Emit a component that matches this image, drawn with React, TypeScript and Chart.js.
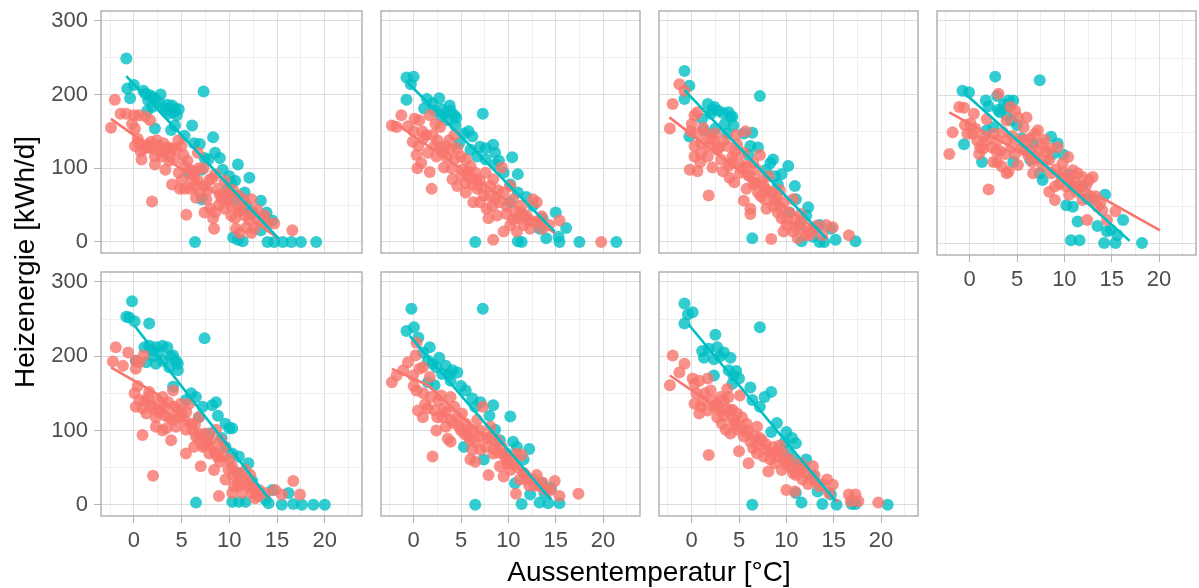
import React, { useEffect, useRef } from 'react';
import { Chart, registerables } from 'chart.js';

Chart.register(...registerables);

// ---------- data (x = Aussentemperatur °C, y = Heizenergie kWh/d) ----------
const xTickValues = [-2.5, 0, 2.5, 5, 7.5, 10, 12.5, 15, 17.5, 20, 22.5];
const yTickValues = [0, 50, 100, 150, 200, 250, 300];
const xTitle = 'Aussentemperatur [°C]';
const yTitle = 'Heizenergie [kWh/d]';

const panel1Teal = [[-0.8,249],[-0.7,208],[0,213],[-0.4,195],[1.2,201],[1.7,199],[1.5,192],[2.2,194],[2.6,190],[1.9,183],[1.4,178],[2.2,154],[3.3,178],[4.0,185],[4.3,181],[3.6,174],[4.5,172],[3.9,152],[4.3,158],[5.3,144],[6.1,158],[7.3,204],[6.3,134],[6.9,133],[8.3,142],[8.5,121],[9.0,114],[7.8,112],[7.1,98],[10.0,89],[10.9,105],[10.6,83],[9.8,72],[11.6,67],[12.1,87],[10.6,58],[11.8,49],[12.3,40],[13.3,56],[13.9,40],[13.3,16],[14.5,29],[14.0,0],[14.7,0],[15.6,0],[16.5,0],[17.5,0],[19.1,0],[6.4,0],[10.4,6],[10.9,3],[11.4,1],[7.1,58],[5.7,94],[7.4,114],[9.3,98],[10.2,80],[4.1,176],[3.0,182],[2.0,196],[3.5,186],[4.7,180],[2.8,200],[1.0,205]];
const panel1Salmon = [[-2.0,193],[-2.4,155],[-1.4,174],[-0.8,174],[0,172],[0.5,172],[1.2,170],[1.7,165],[-0.2,160],[0.1,154],[0.1,130],[0.7,123],[0.8,112],[1.4,132],[1.8,136],[2.2,116],[1.9,55],[2.6,130],[3.1,134],[3.4,125],[3.8,121],[3.3,98],[4.0,78],[4.3,112],[4.7,94],[5.0,130],[5.2,118],[5.3,103],[4.8,72],[5.3,72],[5.9,98],[6.0,85],[6.4,76],[5.5,37],[6.7,83],[6.9,67],[7.3,100],[7.4,76],[7.6,58],[8.0,45],[8.3,32],[8.4,18],[8.5,92],[8.8,72],[9.2,58],[9.5,83],[9.5,45],[9.9,58],[10.2,49],[10.6,32],[10.7,18],[10.9,63],[11.4,52],[11.6,36],[11.8,20],[12.3,58],[12.5,40],[12.6,18],[13.0,29],[13.5,32],[14.0,25],[14.7,25],[16.6,16],[13.7,36],[4.65,138],[4.0,127],[2.9,116],[2.2,105],[6.7,121],[5.9,72],[10.2,36],[8.5,40],[7.4,40],[12.3,12],[11.1,12],[0.4,140],[1.0,126],[2.0,126],[3.6,128],[6.2,96],[7.9,84],[9.0,64],[10.0,70],[11.2,44],[0.5,135],[1.5,128],[2.4,138],[3.0,122],[4.4,126],[5.6,110],[6.3,90],[6.8,100],[7.7,70],[8.2,86],[8.9,50],[9.7,64],[10.4,70],[11.0,42],[11.5,58],[12.1,30],[12.9,44],[3.7,110],[5.0,84],[6.5,60]];

const panel2Teal = [[-0.76,223],[0,224],[-0.3,214],[-0.76,193],[1.4,194],[2.7,195],[1.1,181],[2.2,178],[3.2,174],[3.9,178],[4.3,172],[3.6,165],[4.4,158],[7.3,174],[5.3,147],[6.2,143],[7.0,129],[7.6,127],[8.4,132],[8.6,121],[6.7,116],[7.6,112],[8.6,105],[10.4,115],[9.5,94],[11.0,92],[10.2,78],[11.0,67],[11.9,61],[12.6,49],[13.6,32],[15.0,40],[16.1,19],[14.0,5],[15.3,7],[15.4,0],[11.4,0],[11.0,1],[6.5,0],[17.5,0],[21.4,0],[13.3,18],[11.6,36],[10.2,54],[6.0,125],[4.8,134],[3.8,185],[2.9,170],[2.0,188],[3.0,180],[4.5,168],[5.8,150],[9.0,110]];
const panel2Salmon = [[-2.3,158],[-1.8,156],[-1.3,172],[-0.6,157],[0.1,167],[0.6,165],[1.7,172],[-0.1,136],[0.5,130],[0.3,118],[0.8,107],[1.7,95],[1.9,72],[1.3,145],[1.5,121],[2.2,130],[2.5,138],[2.8,156],[3.1,121],[3.2,101],[3.75,138],[3.9,125],[4.3,112],[4.1,85],[4.6,127],[5.0,116],[5.1,98],[5.5,112],[5.7,89],[6.0,103],[6.2,78],[6.5,94],[6.3,54],[7.0,83],[7.4,63],[7.6,94],[8.1,76],[7.9,32],[8.4,85],[8.6,58],[8.8,36],[9.3,101],[9.5,67],[9.8,49],[10.2,76],[10.5,58],[10.7,40],[11.0,32],[11.4,49],[11.6,23],[11.9,36],[12.3,18],[12.6,58],[13.0,54],[13.1,27],[13.6,18],[14.3,23],[15.4,29],[8.4,3],[19.8,0],[7.0,54],[5.5,67],[4.3,145],[2.4,116],[9.5,14],[10.9,14],[10.2,23],[7.7,45],[4.6,76],[6.7,72],[0.9,150],[3.4,130],[5.8,95],[8.9,70],[12.0,30],[0,150],[1.0,140],[2.0,145],[2.8,128],[3.5,115],[4.0,100],[5.0,90],[5.5,80],[6.6,85],[7.2,74],[8.0,62],[8.3,48],[9.0,54],[9.8,38],[10.5,30],[11.3,40],[12.5,28],[13.5,35],[0.4,100],[2.3,160]];

const panel3Teal = [[-0.76,232],[-0.24,212],[-0.76,194],[1.7,187],[2.4,183],[2.0,174],[1.1,167],[3.9,176],[4.1,170],[4.4,158],[-0.24,143],[1.3,152],[2.5,154],[3.75,147],[6.4,148],[7.2,198],[6.2,130],[6.0,118],[8.3,107],[8.6,112],[10.2,103],[7.9,98],[8.8,89],[9.1,78],[10.9,76],[11.0,58],[12.3,47],[12.1,36],[13.5,23],[14.7,18],[15.2,3],[14.0,0],[11.6,1],[6.4,5],[17.3,1],[13.5,0],[12.8,7],[11.4,23],[10.3,40],[5.5,147],[2.8,178],[3.5,160],[2.2,180],[3.3,175],[4.3,170],[7.0,128],[9.5,92]];
const panel3Salmon = [[-1.3,214],[-0.76,205],[-2.0,187],[-2.3,154],[0.3,172],[0.6,176],[-0.1,150],[0.45,147],[0.3,130],[0.3,116],[-0.2,98],[0.6,96],[1.0,134],[1.5,147],[1.8,130],[1.7,116],[2.2,101],[1.8,63],[2.5,147],[2.7,125],[3.1,112],[3.4,138],[3.75,130],[3.9,103],[4.0,87],[4.3,116],[4.6,123],[5.0,107],[5.1,94],[5.7,150],[5.5,121],[5.8,103],[6.2,89],[6.5,78],[5.5,56],[6.2,45],[6.2,38],[6.9,98],[7.2,118],[7.0,67],[7.6,76],[7.7,58],[7.9,45],[8.4,67],[8.6,49],[9.0,61],[9.1,40],[9.5,32],[9.7,54],[10.0,23],[10.3,40],[10.7,14],[11.0,29],[11.2,5],[11.7,18],[12.1,9],[12.4,14],[12.8,18],[8.4,4],[14.2,23],[14.9,20],[16.6,9],[10.7,58],[8.1,89],[6.5,107],[4.5,81],[5.8,72],[9.7,14],[13.8,9],[1.0,120],[2.3,138],[4.8,132],[7.4,84],[9.3,70],[11.5,38],[0,160],[1.2,155],[2.0,140],[2.9,128],[3.3,96],[4.2,108],[5.4,100],[6.0,90],[6.8,80],[7.3,62],[8.0,70],[8.8,56],[9.4,46],[10.1,30],[10.9,20],[11.5,26],[12.5,10],[13.2,22],[0.9,108],[4.7,145]];

const panel4Teal = [[-0.76,206],[-0.07,204],[2.7,225],[7.4,220],[1.7,193],[2.0,185],[2.9,199],[3.6,188],[4.1,193],[4.6,193],[3.2,177],[3.9,173],[4.4,166],[2.5,157],[1.8,153],[-0.6,134],[1.3,110],[4.6,110],[5.5,142],[6.4,113],[7.4,95],[7.7,86],[8.6,144],[9.3,135],[10.5,93],[10.9,77],[10.2,52],[10.9,50],[12.4,61],[11.4,30],[13.5,24],[14.3,66],[14.5,17],[14.9,19],[16.2,32],[15.6,12],[10.7,5],[11.6,5],[14.2,1],[15.4,1],[18.2,1],[13.0,59],[11.9,77],[8.8,121],[6.7,135],[3.0,180],[4.0,185],[5.0,160],[9.9,120]];
const panel4Salmon = [[-2.15,121],[-1.8,150],[-1.1,184],[-0.6,183],[0.1,162],[0.3,148],[0.45,175],[0.8,139],[1.1,130],[1.0,121],[1.5,144],[1.8,168],[2.0,73],[2.5,110],[2.3,130],[2.9,139],[3.05,202],[3.4,104],[3.75,121],[4.1,97],[3.9,166],[4.3,184],[4.8,179],[4.4,130],[4.8,121],[5.1,106],[5.3,139],[5.7,157],[6.0,170],[5.8,126],[6.2,119],[6.4,142],[6.9,148],[7.2,153],[7.0,117],[7.6,135],[7.7,104],[8.1,124],[8.4,113],[8.6,95],[9.0,77],[8.4,70],[9.5,81],[9.3,130],[9.8,108],[10.4,117],[10.2,77],[10.5,66],[10.9,99],[11.4,95],[11.6,77],[11.9,90],[12.3,79],[12.6,86],[11.9,59],[12.4,32],[13.0,90],[13.3,64],[13.8,55],[14.5,32],[15.4,44],[10.5,88],[6.7,95],[3.9,95],[5.1,170],[2.9,110],[-0.24,148],[9.0,59],[1.4,128],[2.8,125],[4.0,140],[5.5,128],[6.6,110],[8.0,112],[9.9,96],[11.0,84],[0.6,155],[1.7,138],[2.5,148],[3.2,125],[3.5,150],[4.5,145],[5.9,140],[6.5,128],[7.3,125],[8.5,128],[9.1,100],[9.7,90],[10.8,78],[11.3,70],[12.0,68],[12.8,62],[13.5,50],[14.0,45],[-0.5,160],[7.9,140]];

const panel5Teal = [[-0.2,274],[-0.8,253],[-0.5,252],[0.07,247],[1.6,244],[1.1,212],[1.6,214],[2.3,212],[3.0,214],[3.5,212],[0.2,194],[1.3,192],[2.3,190],[3.0,194],[4.1,201],[4.4,194],[4.6,181],[3.7,185],[4.1,159],[7.4,224],[6.0,150],[6.5,145],[5.45,141],[7.2,132],[8.2,134],[8.6,138],[6.8,118],[7.9,96],[9.6,109],[10.0,103],[10.3,103],[9.6,78],[10.3,69],[11.0,65],[12.0,56],[11.0,43],[12.4,32],[10.3,4],[11.0,4],[11.7,4],[6.5,3],[13.8,7],[14.1,2],[15.5,0],[16.2,16],[16.7,1],[17.6,0],[18.8,0],[20.0,0],[14.5,20],[2.0,200],[4.6,190],[2.6,205],[3.8,200],[1.9,208],[8.8,120],[9.2,90]];
const panel5Salmon = [[-2.2,193],[-1.9,212],[-1.15,187],[-0.6,205],[0.2,194],[0.2,183],[0.6,192],[1.0,201],[0.07,150],[0.2,132],[0.6,141],[0.9,130],[0.9,94],[1.3,123],[1.6,152],[2.0,39],[1.8,134],[2.3,118],[2.5,141],[3.0,145],[3.2,132],[3.4,103],[3.7,118],[3.9,87],[4.1,154],[4.2,132],[4.4,105],[4.8,118],[4.9,136],[5.3,114],[5.45,101],[5.8,136],[6.0,109],[6.3,78],[6.5,92],[6.8,118],[7.0,52],[7.2,78],[7.5,96],[7.9,69],[8.2,78],[8.4,47],[8.75,65],[8.9,12],[9.1,87],[9.4,78],[9.6,34],[10.0,61],[10.3,52],[10.5,25],[10.8,43],[11.2,34],[11.35,16],[11.7,47],[12.0,25],[12.4,16],[12.7,9],[13.1,20],[13.8,16],[14.8,20],[15.5,14],[16.7,32],[17.4,14],[6.8,87],[8.6,101],[4.1,114],[2.3,105],[10.3,16],[5.45,69],[1.2,140],[2.8,128],[3.6,138],[5.0,124],[6.2,100],[7.7,84],[9.0,58],[10.9,30],[12.5,22],[0.4,160],[1.5,145],[2.0,130],[2.6,125],[3.3,120],[4.6,128],[5.5,125],[6.4,108],[7.0,95],[7.4,80],[8.0,88],[8.5,70],[9.3,65],[9.9,48],[10.4,40],[11.0,26],[11.8,30],[12.2,40],[13.0,12],[3.0,100]];

const panel6Teal = [[-0.24,264],[7.3,264],[-0.76,234],[0.03,239],[1.7,212],[2.7,198],[1.5,194],[2.4,185],[3.4,187],[4.1,181],[4.6,178],[1.5,165],[2.2,161],[3.9,167],[5.5,154],[6.2,143],[7.05,138],[8.4,134],[6.5,132],[10.2,119],[5.3,78],[7.4,61],[8.6,101],[9.1,87],[10.5,85],[10.9,78],[12.2,75],[10.7,29],[12.3,14],[11.4,1],[13.5,29],[13.8,16],[13.3,3],[14.2,2],[15.4,2],[6.5,0],[14.5,23],[11.6,61],[9.8,69],[3.0,176],[0.5,225],[1.0,205],[2.0,190],[3.7,175],[5.0,160],[8.0,120]];
const panel6Salmon = [[-2.3,165],[-1.8,174],[-1.1,181],[-0.6,192],[0.2,201],[0.3,218],[-0.07,174],[0.6,183],[0.97,185],[0.3,154],[0.45,127],[0.97,118],[1.7,172],[1.8,145],[2.0,65],[2.2,127],[2.9,147],[3.05,118],[3.4,105],[3.6,89],[3.9,85],[3.9,145],[4.3,132],[4.6,118],[5.1,123],[5.5,109],[5.7,101],[6.0,87],[6.2,74],[6.5,58],[6.7,114],[7.3,132],[7.05,92],[7.6,78],[7.9,40],[8.1,105],[8.4,69],[8.8,87],[9.1,52],[9.3,78],[9.8,61],[10.2,47],[10.8,15],[10.9,69],[11.4,67],[11.6,43],[11.9,34],[12.6,34],[13.0,40],[13.3,25],[14.0,20],[14.5,20],[14.9,32],[15.4,12],[17.4,15],[4.8,105],[6.0,61],[7.05,74],[9.5,38],[11.2,34],[3.9,114],[2.5,118],[1.2,135],[3.2,130],[5.4,95],[6.3,100],[8.2,92],[9.6,66],[10.6,55],[12.2,26],[0,160],[1.0,150],[1.5,130],[2.6,140],[3.4,125],[4.2,110],[5.0,100],[5.8,92],[6.5,85],[7.0,100],[7.8,90],[8.5,75],[9.0,70],[9.9,55],[10.4,62],[11.0,50],[11.8,40],[12.8,26],[13.6,30],[2.4,100]];

const panel7Teal = [[-0.76,271],[-0.4,256],[0.1,259],[-0.76,244],[2.5,229],[1.1,207],[1.3,198],[2.7,212],[3.4,205],[2.35,196],[4.1,198],[3.9,181],[4.4,174],[2.35,174],[4.3,163],[7.2,239],[6.2,158],[6.4,141],[7.2,132],[7.7,145],[8.4,152],[8.4,98],[10.0,98],[9.8,84],[11.0,83],[10.7,61],[12.1,61],[11.4,52],[13.3,18],[11.0,16],[11.6,3],[13.8,1],[15.3,0],[16.9,1],[17.3,1],[20.7,0],[6.4,0],[14.7,14],[10.2,72],[12.8,38],[5.0,170],[1.8,210],[3.0,200],[4.7,180],[9.0,110],[10.6,90]];
const panel7Salmon = [[-2.3,161],[-2.0,201],[-1.3,178],[-0.76,190],[0.1,170],[0.3,163],[0.8,167],[1.7,170],[2.0,154],[0.3,136],[0.97,132],[0.8,123],[1.7,127],[2.35,132],[3.05,145],[3.4,141],[3.9,145],[3.75,156],[1.8,67],[2.7,118],[3.2,109],[3.6,101],[4.1,96],[4.4,114],[4.8,123],[5.1,147],[5.1,105],[5.0,72],[5.5,92],[5.8,109],[6.0,56],[6.2,85],[6.5,76],[6.9,105],[7.4,87],[7.6,65],[7.9,74],[8.1,45],[8.6,78],[8.8,56],[9.1,65],[9.5,47],[9.65,69],[10.0,54],[10.35,61],[10.0,20],[10.9,18],[10.7,43],[11.2,47],[11.7,34],[12.1,43],[12.8,52],[12.95,32],[13.5,25],[14.3,34],[14.9,27],[14.5,16],[16.6,14],[17.3,14],[17.6,5],[16.8,5],[19.7,3],[4.8,101],[6.9,69],[8.3,61],[4.1,127],[1.2,140],[2.9,128],[4.5,110],[5.7,98],[7.2,90],[9.3,80],[11.5,56],[12.3,28],[0.5,150],[1.4,150],[2.2,140],[2.6,135],[3.4,120],[4.3,128],[5.3,118],[5.9,100],[6.6,92],[7.0,80],[7.8,82],[8.4,70],[9.0,72],[9.8,60],[10.5,50],[11.0,40],[11.9,50],[13.0,40],[13.8,28],[3.7,130]];

const panel1TealFit = [[-0.8,225],[15.2,4]];
const panel1SalmonFit = [[-2.4,167],[15.2,4]];
const panel2TealFit = [[-0.6,216],[14.9,14]];
const panel2SalmonFit = [[-2.3,164],[14.9,12]];
const panel3TealFit = [[-0.76,206],[14.2,5]];
const panel3SalmonFit = [[-2.35,169],[14.2,6]];
const panel4TealFit = [[-0.3,200],[16.9,4]];
const panel4SalmonFit = [[-2.15,177],[20.1,18]];
const panel5TealFit = [[0.07,241],[14.1,9]];
const panel5SalmonFit = [[-2.4,185],[2.3,150],[14.1,9]];
const panel6TealFit = [[-0.4,227],[14.5,7]];
const panel6SalmonFit = [[-2.3,183],[1.5,161],[14.5,9]];
const panel7TealFit = [[-0.35,243],[15.2,5]];
const panel7SalmonFit = [[-2.3,174],[1.3,143],[15.5,4]];

// ---------- styling / layout ----------
const X_MIN = -3.45;
const X_MAX = 23.9;
const Y_MIN = -15;
const Y_MAX = 313.3;
const TEAL = '#00BFC4';
const SALMON = '#F8766D';
const TEAL_PT = 'rgba(0,191,196,0.8)';
const SALMON_PT = 'rgba(248,118,109,0.8)';
const FONT = "'Liberation Sans', Arial, Helvetica, sans-serif";
const PANEL_W = 263;
const PANEL_H = 246;
const COL_LEFT = [101, 379, 657, 935];
const ROW_TOP = [9, 270];

type Pt = number[];
interface PanelSpec {
  col: number; row: number; showX: boolean;
  teal: Pt[]; salmon: Pt[]; tealFit: Pt[]; salmonFit: Pt[];
}

const panels: PanelSpec[] = [
  { col: 0, row: 0, showX: false, teal: panel1Teal, salmon: panel1Salmon, tealFit: panel1TealFit, salmonFit: panel1SalmonFit },
  { col: 1, row: 0, showX: false, teal: panel2Teal, salmon: panel2Salmon, tealFit: panel2TealFit, salmonFit: panel2SalmonFit },
  { col: 2, row: 0, showX: false, teal: panel3Teal, salmon: panel3Salmon, tealFit: panel3TealFit, salmonFit: panel3SalmonFit },
  { col: 3, row: 0, showX: true, teal: panel4Teal, salmon: panel4Salmon, tealFit: panel4TealFit, salmonFit: panel4SalmonFit },
  { col: 0, row: 1, showX: true, teal: panel5Teal, salmon: panel5Salmon, tealFit: panel5TealFit, salmonFit: panel5SalmonFit },
  { col: 1, row: 1, showX: true, teal: panel6Teal, salmon: panel6Salmon, tealFit: panel6TealFit, salmonFit: panel6SalmonFit },
  { col: 2, row: 1, showX: true, teal: panel7Teal, salmon: panel7Salmon, tealFit: panel7TealFit, salmonFit: panel7SalmonFit },
];

const toXY = (arr: Pt[]) => arr.map(([x, y]) => ({ x, y }));

const borderPlugin = {
  id: 'panelBorder',
  afterDatasetsDraw(chart: any) {
    const { ctx, chartArea } = chart;
    const { left, top, right, bottom } = chartArea;
    ctx.save();
    ctx.strokeStyle = '#B3B3B3';
    ctx.lineWidth = 1.5;
    ctx.strokeRect(left, top, right - left, bottom - top);
    ctx.restore();
  },
};

function Panel({ spec }: { spec: PanelSpec }) {
  const ref = useRef<HTMLCanvasElement | null>(null);
  const showY = spec.col === 0;
  const ml = showY ? 101 : 4;
  const mt = 4;
  const mr = 4;
  const mb = spec.showX ? 45 : 4;
  const w = ml + PANEL_W + mr;
  const h = mt + PANEL_H + mb;
  const left = COL_LEFT[spec.col] - ml;
  const top = ROW_TOP[spec.row] - mt;

  useEffect(() => {
    if (!ref.current) return;
    const chart = new Chart(ref.current, {
      type: 'scatter',
      data: {
        datasets: [
          { data: toXY(spec.teal), backgroundColor: TEAL_PT, borderWidth: 0, pointRadius: 6, order: 4 },
          { data: toXY(spec.salmon), backgroundColor: SALMON_PT, borderWidth: 0, pointRadius: 6, order: 3 },
          { data: toXY(spec.salmonFit), showLine: true, borderColor: SALMON, borderWidth: 2.6, pointRadius: 0, order: 2 } as any,
          { data: toXY(spec.tealFit), showLine: true, borderColor: TEAL, borderWidth: 2.6, pointRadius: 0, order: 1 } as any,
        ],
      },
      options: {
        animation: false,
        responsive: false,
        devicePixelRatio: 1,
        events: [],
        layout: { padding: { left: 0, top: mt, right: mr, bottom: 0 } },
        plugins: { legend: { display: false }, tooltip: { enabled: false } },
        scales: {
          x: {
            type: 'linear',
            position: 'bottom',
            min: X_MIN,
            max: X_MAX,
            afterBuildTicks: (s: any) => { s.ticks = xTickValues.map((v) => ({ value: v })); },
            afterFit: (s: any) => { s.height = mb; s.paddingLeft = 0; s.paddingRight = 0; },
            border: { display: false },
            grid: {
              color: (c: any) => (c.tick && c.tick.value % 5 === 0 ? '#DDDDDD' : '#EFEFEF'),
              lineWidth: 1,
              drawTicks: spec.showX,
              tickLength: 7,
              tickColor: (c: any) => (c.tick && c.tick.value % 5 === 0 ? '#B3B3B3' : 'rgba(0,0,0,0)'),
            },
            ticks: {
              display: spec.showX,
              autoSkip: false,
              maxRotation: 0,
              padding: 5,
              color: '#4D4D4D',
              font: { family: FONT, size: 22 },
              callback: (v: any) => (Number(v) % 5 === 0 ? String(v) : ''),
            },
          },
          y: {
            type: 'linear',
            position: 'left',
            min: Y_MIN,
            max: Y_MAX,
            afterBuildTicks: (s: any) => { s.ticks = yTickValues.map((v) => ({ value: v })); },
            afterFit: (s: any) => { s.width = ml; s.paddingTop = 0; s.paddingBottom = 0; },
            border: { display: false },
            grid: {
              color: (c: any) => (c.tick && c.tick.value % 100 === 0 ? '#DDDDDD' : '#EFEFEF'),
              lineWidth: 1,
              drawTicks: showY,
              tickLength: 7,
              tickColor: (c: any) => (c.tick && c.tick.value % 100 === 0 ? '#B3B3B3' : 'rgba(0,0,0,0)'),
            },
            ticks: {
              display: showY,
              autoSkip: false,
              padding: 6,
              color: '#4D4D4D',
              font: { family: FONT, size: 22 },
              callback: (v: any) => (Number(v) % 100 === 0 ? String(v) : ''),
            },
          },
        },
      },
      plugins: [borderPlugin],
    } as any);
    return () => chart.destroy();
  }, []);

  return (
    <div style={{ position: 'absolute', left, top, width: w, height: h }}>
      <canvas ref={ref} width={w} height={h} style={{ width: w, height: h, display: 'block' }} />
    </div>
  );
}

export default function App() {
  return (
    <div style={{ position: 'absolute', left: 0, top: 0, width: 1199, height: 588, overflow: 'hidden', background: '#ffffff' }}>
      {panels.map((p, i) => (
        <Panel key={i} spec={p} />
      ))}
      <div
        style={{
          position: 'absolute', left: 25, top: 262, transform: 'translate(-50%, -50%) rotate(-90deg)',
          fontFamily: FONT, fontSize: 28, lineHeight: '28px', whiteSpace: 'nowrap', color: '#000',
        }}
      >
        {yTitle}
      </div>
      <div
        style={{
          position: 'absolute', left: 0, width: 1298, top: 558, textAlign: 'center',
          fontFamily: FONT, fontSize: 28, lineHeight: '28px', whiteSpace: 'nowrap', color: '#000',
        }}
      >
        {xTitle}
      </div>
    </div>
  );
}
